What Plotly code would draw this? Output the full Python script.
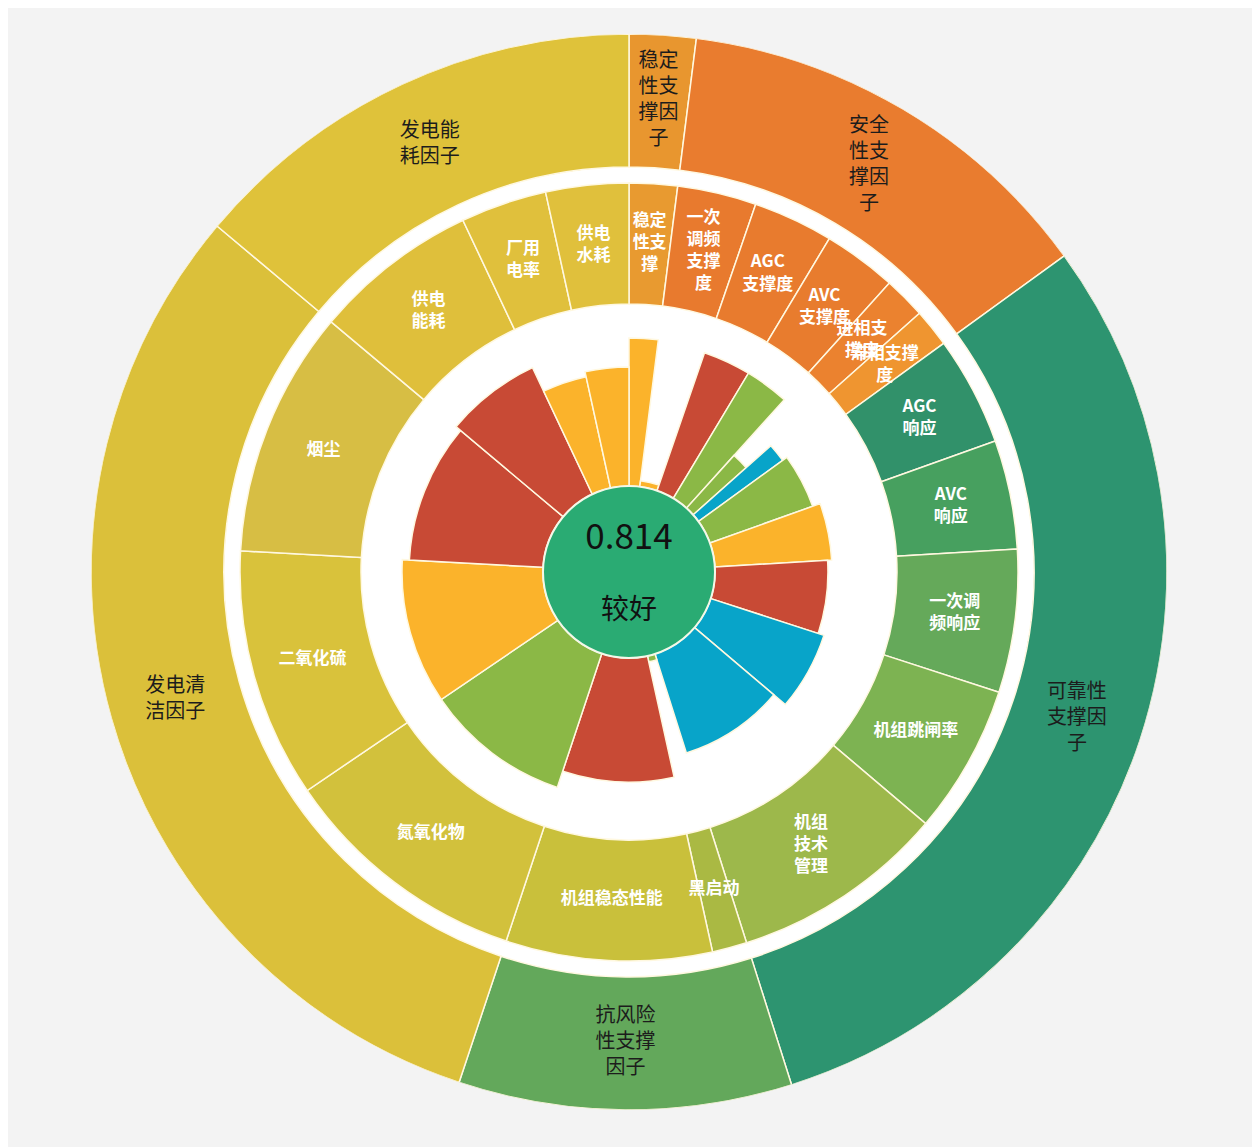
import numpy as np
import plotly.graph_objects as go

# ---------------- data ----------------
groups = ["稳定性支撑因子", "安全性支撑因子", "可靠性支撑因子", "抗风险性支撑因子", "发电清洁因子", "发电能耗因子"]
group_labels = ["稳定<br>性支<br>撑因<br>子", "安全<br>性支<br>撑因<br>子", "可靠性<br>支撑因<br>子",
                "抗风险<br>性支撑<br>因子", "发电清<br>洁因子", "发电能<br>耗因子"]
group_colors = ["#e8962f", "#e97c2f", "#2d9470", "#63a85b", "#dbc03a", "#dfc23a"]

indicators = ["稳定性支撑", "一次调频支撑度", "AGC支撑度", "AVC支撑度", "进相支撑度", "滞相支撑度",
              "AGC响应", "AVC响应", "一次调频响应", "机组跳闸率", "机组技术管理",
              "黑启动", "机组稳态性能", "氮氧化物", "二氧化硫", "烟尘",
              "供电能耗", "厂用电率", "供电水耗"]
indicator_labels = ["稳定<br>性支<br>撑", "一次<br>调频<br>支撑<br>度", "AGC<br>支撑度", "AVC<br>支撑度",
                    "进相支<br>撑度", "滞相支撑<br>度", "AGC<br>响应", "AVC<br>响应", "一次调<br>频响应",
                    "机组跳闸率", "机组<br>技术<br>管理", "黑启动", "机组稳态性能", "氮氧化物",
                    "二氧化硫", "烟尘", "供电<br>能耗", "厂用<br>电率", "供电<br>水耗"]
indicator_group = [0, 1, 1, 1, 1, 1, 2, 2, 2, 2, 2, 3, 3, 4, 4, 4, 5, 5, 5]
indicator_weights = [2.00, 3.28, 3.33, 3.06, 1.75, 1.58, 4.53, 4.53, 5.94, 6.19, 8.92,
                     1.44, 8.56, 10.39, 10.36, 10.25, 6.86, 3.58, 3.44]
indicator_colors = ["#e89a30", "#e87a2e", "#e87b2e", "#e87c2e", "#eb822f", "#ef9530",
                    "#31916a", "#47a05f", "#65a95a", "#7db352", "#9db84b",
                    "#aab943", "#c9c03b", "#d2c13c", "#d9c23b", "#d7be44",
                    "#dfbf3b", "#e0c03c", "#e0c03c"]
indicator_scores = [0.987, 0.04, 0.973, 0.973, 0.473, 0.693, 0.727, 0.78, 0.753, 0.793, 0.693,
                    0.04, 0.827, 0.94, 0.94, 0.893, 0.933, 0.76, 0.793]
indicator_levels = ["中", "中", "差", "良", "良", "优", "良", "中", "差", "优", "优",
                    "良", "差", "良", "中", "差", "差", "中", "中"]
level_colors = {"差": "#c84a35", "中": "#fbb32b", "良": "#8bb846", "优": "#08a4c9"}

total_score = "0.814"
total_grade = "较好"

# ---------------- geometry (styles) ----------------
R_CENTER = 86
BAR_SPAN = 150
MID_IN, MID_OUT = 268, 389
OUT_IN, OUT_OUT = 405, 538
SEP = "#fff8e0"

w = np.array(indicator_weights, dtype=float)
spans = w / w.sum() * 360.0
starts = np.concatenate([[0], np.cumsum(spans)[:-1]])
mids = starts + spans / 2

g_spans = np.array([spans[[i for i, g in enumerate(indicator_group) if g == k]].sum() for k in range(len(groups))])
g_starts = np.concatenate([[0], np.cumsum(g_spans)[:-1]])
g_mids = g_starts + g_spans / 2

fig = go.Figure()

# white backdrop disk
fig.add_trace(go.Barpolar(r=[OUT_IN], base=[0], theta=[180], width=[360],
                          marker=dict(color="white", line=dict(width=0)), hoverinfo="skip"))
# outer ring
fig.add_trace(go.Barpolar(r=[OUT_OUT - OUT_IN] * len(groups), base=[OUT_IN] * len(groups),
                          theta=g_mids, width=g_spans,
                          marker=dict(color=group_colors, line=dict(color=SEP, width=1.5)),
                          text=groups, hoverinfo="text"))
# middle ring
fig.add_trace(go.Barpolar(r=[MID_OUT - MID_IN] * len(indicators), base=[MID_IN] * len(indicators),
                          theta=mids, width=spans,
                          marker=dict(color=indicator_colors, line=dict(color=SEP, width=1.5)),
                          text=indicators, hoverinfo="text"))
# inner rose bars
fig.add_trace(go.Barpolar(r=[s * BAR_SPAN for s in indicator_scores], base=[R_CENTER] * len(indicators),
                          theta=mids, width=spans,
                          marker=dict(color=[level_colors[l] for l in indicator_levels],
                                      line=dict(color=SEP, width=1.5)),
                          text=indicators, hoverinfo="text"))
# center disk
fig.add_trace(go.Barpolar(r=[R_CENTER], base=[0], theta=[180], width=[360],
                          marker=dict(color="#2aab73", line=dict(color="#f4f8e8", width=2)),
                          hoverinfo="skip"))

# labels
fig.add_trace(go.Scatterpolar(r=[(OUT_IN + OUT_OUT) / 2] * len(groups), theta=g_mids, mode="text",
                              text=group_labels,
                              textfont=dict(family="Noto Sans CJK SC", size=20, color="#1c1c1c"),
                              hoverinfo="skip"))
fig.add_trace(go.Scatterpolar(r=[(MID_IN + MID_OUT) / 2] * len(indicators), theta=mids, mode="text",
                              text=indicator_labels,
                              textfont=dict(family="Noto Sans CJK SC", size=17, color="white",
                                            weight="bold"),
                              hoverinfo="skip"))
fig.add_trace(go.Scatterpolar(r=[32, 40], theta=[0, 180], mode="text",
                              text=[total_score, total_grade],
                              textfont=dict(family="Noto Sans CJK SC", size=[35, 28], color="#111111"),
                              hoverinfo="skip"))

W, H = 1260, 1147
cx, cy = 621, 564
fig.update_layout(
    width=W, height=H, margin=dict(l=0, r=0, t=0, b=0),
    paper_bgcolor="#f3f3f3", showlegend=False,
    polar=dict(
        domain=dict(x=[(cx - OUT_OUT) / W, (cx + OUT_OUT) / W],
                    y=[(H - cy - OUT_OUT) / H, (H - cy + OUT_OUT) / H]),
        bgcolor="rgba(0,0,0,0)",
        hole=0,
        radialaxis=dict(range=[0, OUT_OUT], visible=False, showgrid=False),
        angularaxis=dict(rotation=90, direction="clockwise", visible=False, showgrid=False),
        bargap=0,
    ),
)
fig.write_html("out.html")
